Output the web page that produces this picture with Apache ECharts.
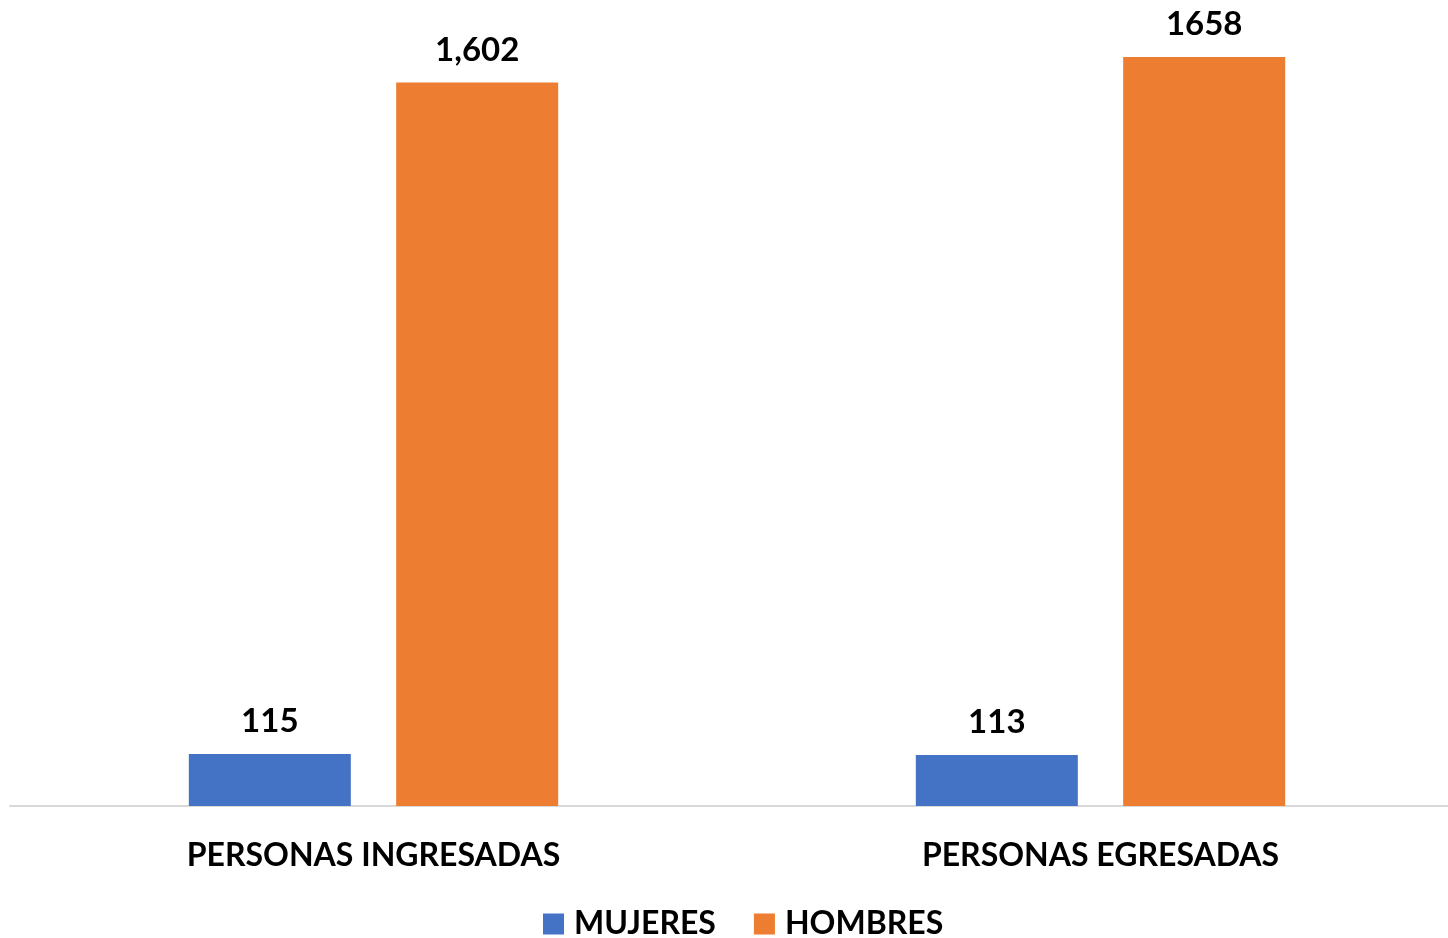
<!DOCTYPE html>
<html>
<head>
<meta charset="utf-8">
<script src="https://cdn.jsdelivr.net/npm/echarts@6/dist/echarts.min.js"></script>
<style>
  html, body { margin: 0; padding: 0; background: #fff; }
  #chart { width: 1448px; height: 938px; }
</style>
</head>
<body>
<div id="chart"></div>
<script>
// datos
const categories = ['PERSONAS INGRESADAS', 'PERSONAS EGRESADAS'];
const mujeres = [115, 113];
const hombres = [1602, 1658];
// el original muestra las etiquetas con formatos distintos
const mujeresLabels = ['115', '113'];
const hombresLabels = ['1,602', '1658'];

const chart = echarts.init(document.getElementById('chart'));
const font = 'Lato, "Open Sans", sans-serif';

const option = {
  backgroundColor: '#ffffff',
  textStyle: { fontFamily: font },
  legend: {
    top: 903,
    left: 538,
    itemWidth: 21,
    itemHeight: 21,
    itemGap: 38,
    icon: 'rect',
    textStyle: { fontSize: 32, fontWeight: 'bold', color: '#000', fontFamily: font, padding: [0, 0, 0, 5] },
    data: ['MUJERES', 'HOMBRES']
  },
  grid: { left: 10, width: 1454, top: 2, bottom: 132, containLabel: false, outerBoundsMode: 'none' },
  xAxis: {
    type: 'category',
    data: categories,
    axisLine: { show: true, lineStyle: { color: '#d9d9d9', width: 2 } },
    axisTick: { show: false },
    axisLabel: { color: '#000', fontSize: 32, fontWeight: 'bold', margin: 34, fontFamily: font }
  },
  yAxis: {
    type: 'value',
    min: 0,
    max: 1780,
    show: false,
    splitLine: { show: false }
  },
  series: [
    {
      name: 'MUJERES',
      type: 'bar',
      data: mujeres,
      barWidth: 162,
      barGap: '28%',
      itemStyle: { color: '#4472c4' },
      label: {
        show: true, position: 'top', distance: 16,
        color: '#000', fontSize: 33, fontWeight: 'bold', fontFamily: font,
        formatter: p => mujeresLabels[p.dataIndex]
      }
    },
    {
      name: 'HOMBRES',
      type: 'bar',
      data: hombres,
      barWidth: 162,
      itemStyle: { color: '#ed7d31' },
      label: {
        show: true, position: 'top', distance: 16,
        color: '#000', fontSize: 33, fontWeight: 'bold', fontFamily: font,
        formatter: p => hombresLabels[p.dataIndex]
      }
    }
  ]
};
chart.setOption(option);
</script>
</body>
</html>
